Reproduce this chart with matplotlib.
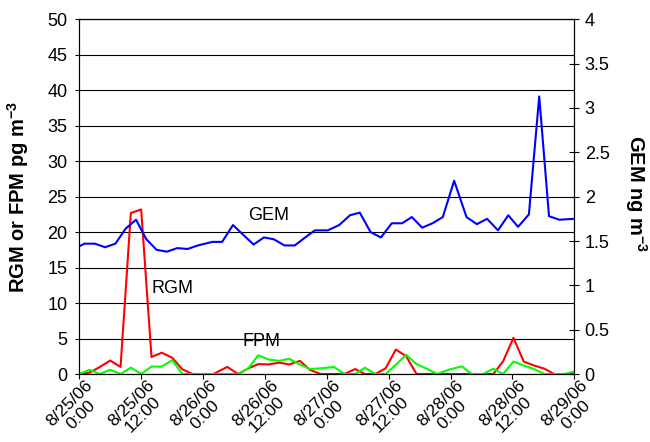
import matplotlib.pyplot as plt
from matplotlib.transforms import ScaledTranslation

plt.rcParams['font.family'] = ['Liberation Sans', 'DejaVu Sans']
plt.rcParams['mathtext.default'] = 'regular'

# sample times in hours after 8/25/06 0:00
rf_hours = [0, 2, 4, 6, 8, 10, 12, 14, 16, 18,
            20, 22, 24, 26, 28.7, 30.8, 32.8, 34.7, 36.7, 38.8,
            40.7, 42.8, 44.7, 46.8, 49.4, 51.4, 53.5, 55.4, 57.4, 59.4,
            61.4, 63.4, 65.4, 67.4, 69.4, 71.6, 74.2, 76.1, 78.3, 80.3,
            82.2, 84.2, 86.2, 88.2, 90.2, 92.1, 94, 96]
rgm = [0, 0.2, 1.0, 1.9, 1.0, 22.7, 23.2, 2.4, 3.0, 2.3,
       0.65, 0, 0, 0, 1.0, 0, 0.8, 1.4, 1.35, 1.6,
       1.35, 1.85, 0.6, 0, 0, 0, 0.7, 0, 0, 0.8,
       3.45, 2.5, 0, 0, 0, 0, 0, 0, 0, 0,
       1.8, 5.1, 1.75, 1.2, 0.75, 0, 0, 0]
fpm = [0, 0.6, 0, 0.6, 0, 0.9, 0, 1.05, 1.05, 1.95,
       0, 0, 0, 0, 0, 0, 0.8, 2.65, 2.05, 1.85,
       2.15, 1.35, 0.7, 0.8, 1.0, 0, 0, 0.9, 0, 0,
       1.3, 2.7, 1.4, 0.75, 0, 0.6, 1.08, 0, 0, 0.75,
       0, 1.75, 1.2, 0.7, 0, 0, 0, 0.35]

gem_hours = [0, 1, 3, 5, 7, 9, 11, 13, 15, 17,
             19, 21, 23, 25.8, 27.7, 29.8, 31.8, 33.8, 35.8, 37.7,
             39.8, 41.8, 43.8, 45.7, 48.2, 50.4, 52.5, 54.4, 56.5, 58.5,
             60.6, 62.6, 64.5, 66.5, 68.5, 70.5, 72.7, 75.1, 77.1, 79.1,
             81.2, 83.2, 85.1, 87.2, 89.2, 91.1, 93.1, 96]
gem = [1.44, 1.47, 1.47, 1.43, 1.47, 1.64, 1.74, 1.52, 1.40, 1.38,
       1.42, 1.41, 1.45, 1.49, 1.49, 1.68, 1.57, 1.46, 1.54, 1.52,
       1.45, 1.45, 1.54, 1.62, 1.62, 1.68, 1.79, 1.82, 1.60, 1.54,
       1.70, 1.70, 1.77, 1.65, 1.70, 1.77, 2.18, 1.77, 1.69, 1.75,
       1.62, 1.79, 1.66, 1.80, 3.13, 1.78, 1.74, 1.75]

tick_hours = [0, 12, 24, 36, 48, 60, 72, 84, 96]
tick_labels = ['8/25/06\n0:00', '8/25/06\n12:00', '8/26/06\n0:00', '8/26/06\n12:00',
               '8/27/06\n0:00', '8/27/06\n12:00', '8/28/06\n0:00', '8/28/06\n12:00',
               '8/29/06\n0:00']
left_ticks = [0, 5, 10, 15, 20, 25, 30, 35, 40, 45, 50]
right_ticks = [0, 0.5, 1, 1.5, 2, 2.5, 3, 3.5, 4]
right_labels = ['0', '0.5', '1', '1.5', '2', '2.5', '3', '3.5', '4']

fig = plt.figure(figsize=(6.5, 4.42), dpi=100)
ax = fig.add_axes([0.122, 0.1538, 0.7615, 0.8025])

ax.plot(rf_hours, rgm, color='#ff0000', lw=1.5)
ax.plot(rf_hours, fpm, color='#00ff00', lw=1.5)
ax.set_xlim(0, 96)
ax.set_ylim(0, 50)
ax.set_yticks(left_ticks)
ax.grid(axis='y', color='black', lw=0.8)
ax.set_xticks(tick_hours)
ax.set_xticklabels(tick_labels, rotation=45, ha='right', va='top',
                   rotation_mode='anchor', multialignment='center',
                   linespacing=1.1)
ax.tick_params(axis='x', direction='out', length=3.6, pad=0, labelsize=12.5)
ax.tick_params(axis='y', direction='out', length=3, pad=5.5, labelsize=13)
# nudge the rotated date labels a little to the right, as in the original
shift = ScaledTranslation(4 / 72, 1 / 72, fig.dpi_scale_trans)
for lab in ax.get_xticklabels():
    lab.set_transform(lab.get_transform() + shift)

ax.text(36.8, 22.3, 'GEM', ha='center', va='center', fontsize=13)
ax.text(18.0, 12.1, 'RGM', ha='center', va='center', fontsize=13)
ax.text(35.4, 4.55, 'FPM', ha='center', va='center', fontsize=13)

ax2 = ax.twinx()
ax2.plot(gem_hours, gem, color='#0000ff', lw=1.5)
ax2.set_ylim(0, 4)
ax2.set_yticks(right_ticks)
ax2.set_yticklabels(right_labels)
ax2.tick_params(axis='y', direction='inout', length=7, pad=4, labelsize=13)

fig.text(18 / 650, 1 - 197 / 442, 'RGM or FPM pg m$^{-3}$', rotation=90,
         ha='center', va='center', fontsize=14.5, fontweight='bold')
fig.text(636 / 650, 1 - 194 / 442, 'GEM ng m$^{-3}$', rotation=270,
         ha='center', va='center', fontsize=14.5, fontweight='bold')

fig.savefig('out.png', dpi=100)
